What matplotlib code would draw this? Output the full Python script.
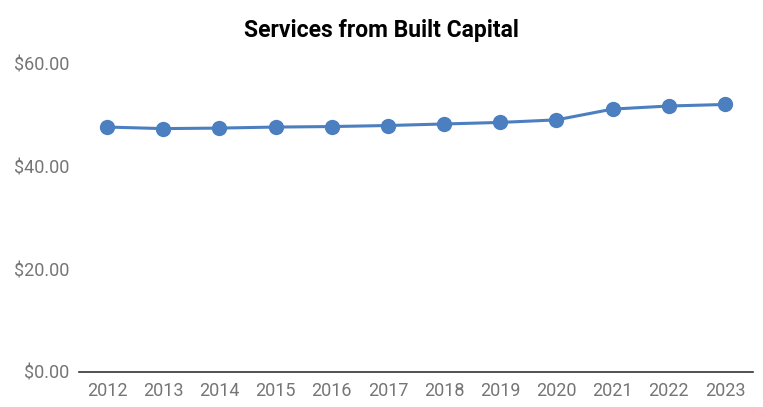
import matplotlib.pyplot as plt

# Dados
years = ['2012', '2013', '2014', '2015', '2016', '2017',
         '2018', '2019', '2020', '2021', '2022', '2023']
values = [47.7, 47.4, 47.5, 47.7, 47.8, 48.0,
          48.3, 48.6, 49.1, 51.2, 51.8, 52.1]

plt.rcParams['font.family'] = ['Roboto', 'DejaVu Sans']

fig = plt.figure(figsize=(7.63, 4.07), dpi=100)
ax = fig.add_axes([0.1035, 0.086, 0.8835, 0.757])

x = range(len(years))
ax.plot(x, values, color='#4b7fbf', linewidth=2.2, marker='o',
        markersize=10, clip_on=False, zorder=3)

ax.set_xlim(-0.5, len(years) - 0.5)
ax.set_ylim(0, 60)
ax.set_yticks([0, 20, 40, 60])
ax.set_yticklabels(['$0.00', '$20.00', '$40.00', '$60.00'])
ax.set_xticks(list(x))
ax.set_xticklabels(years)

for side in ['top', 'right', 'left']:
    ax.spines[side].set_visible(False)
ax.spines['bottom'].set_color('#333333')
ax.spines['bottom'].set_linewidth(1.2)
ax.tick_params(axis='both', length=0, labelsize=13, colors='#757575')
ax.tick_params(axis='x', pad=7)
ax.tick_params(axis='y', pad=7)

fig.text(0.5, 0.925, 'Services from Built Capital', ha='center', va='center',
         fontsize=16.5, fontweight='bold', color='black')

fig.savefig('out.png', dpi=100)
